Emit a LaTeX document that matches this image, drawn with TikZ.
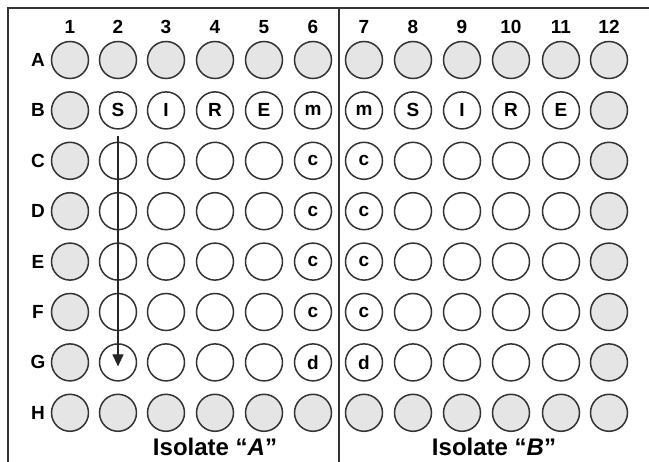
\documentclass[tikz,border=0pt]{standalone}
\usepackage{fontspec}
\setmainfont{Liberation Sans}
\usetikzlibrary{arrows.meta}
\begin{document}
\begin{tikzpicture}[x=1pt,y=-1pt,
  well/.style={circle,draw=black!80,line width=1.5pt,minimum size=37pt,inner sep=0pt},
  wtext/.style={inner sep=0pt,font=\bfseries\fontsize{19}{19}\selectfont},
  lbl/.style={inner sep=0pt,font=\bfseries\fontsize{19}{19}\selectfont},
  title/.style={inner sep=0pt,font=\bfseries\fontsize{24}{24}\selectfont}]
\useasboundingbox (0,0) rectangle (649,462);
\draw[line width=1.2pt,black!80] (8,462) -- (8,8) -- (649,8);
\draw[line width=1.2pt,black!80] (339,8) -- (339,462);
% column labels
\foreach \c/\x in {1/70,2/118,3/166,4/215,5/264,6/313,7/364,8/413,9/462,10/511,11/561,12/609}{
  \node[lbl] (col\c) at (\x,27) {\c};
}
% row labels and wells
\foreach \r/\y [count=\ri] in {A/60,B/110.4,C/160.8,D/211.2,E/261.6,F/312,G/362.4,H/412.8}{
  \node[lbl] (row\r) at (38,\y) {\r};
  \foreach \c/\x in {1/70,2/118,3/166,4/215,5/264,6/313,7/364,8/413,9/462,10/511,11/561,12/609}{
    \pgfmathtruncatemacro\g{(\c==1||\c==12||\ri==1||\ri==8)?1:0}
    \ifnum\g=1
      \node[well,fill=black!10] (w\c\r) at (\x,\y) {};
    \else
      \node[well,fill=white] (w\c\r) at (\x,\y) {};
    \fi
  }
}
% well contents
\foreach \c/\r/\t in {2/B/S,3/B/I,4/B/R,5/B/E,6/B/m,7/B/m,8/B/S,9/B/I,10/B/R,11/B/E,
  6/C/c,6/D/c,6/E/c,6/F/c,6/G/d,7/C/c,7/D/c,7/E/c,7/F/c,7/G/d}{
  \node[wtext] (t\c\r) at (w\c\r.center) {\t};
}
% arrow
\coordinate (arrS) at ([yshift=-6pt]w2B.south);
\coordinate (arrE) at ([yshift=-4pt]w2G.center);
\draw[line width=1.2pt,black!85,-{Triangle[length=12pt,width=11pt]}] (arrS) -- (arrE);
% titles
\node[title] (isoA) at (215,447) {Isolate “\textit{A}”};
\node[title] (isoB) at (494,447) {Isolate “\textit{B}”};
\end{tikzpicture}
\end{document}
